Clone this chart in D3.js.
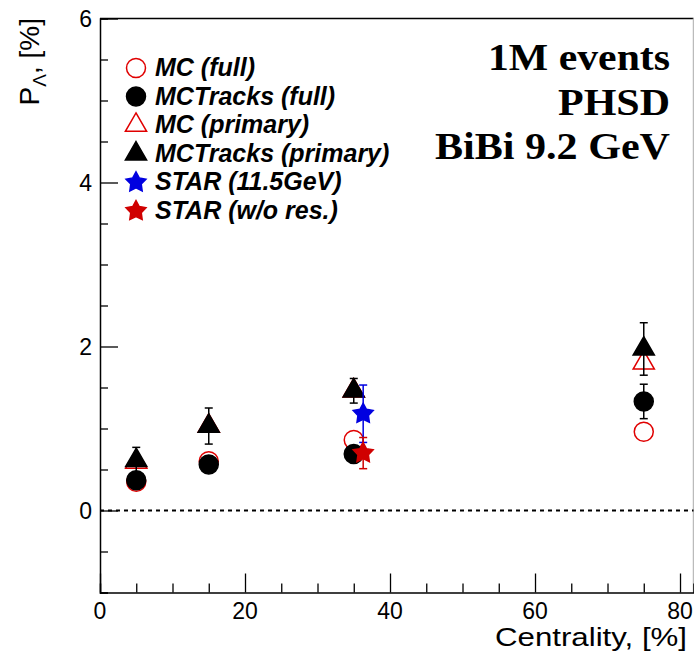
<!DOCTYPE html>
<html><head><meta charset="utf-8">
<script src="https://cdn.jsdelivr.net/npm/d3@7"></script>
<style>body{margin:0;background:#fff}svg{display:block}</style>
</head><body><svg id="c" width="694" height="656"></svg>
<script>
// Data
const centrality = [5, 15, 35, 75];
const mcFull = [0.35, 0.60, 0.86, 0.96];
const mcTracksFull = [0.37, 0.56, 0.69, 1.33];
const mcTracksFullErr = [0.04, 0.05, 0.06, 0.21];
const mcPrimary = [0.59, 1.03, 1.46, 1.80];
const mcTracksPrimary = [0.61, 1.03, 1.46, 1.97];
const mcTracksPrimaryErr = [0.16, 0.22, 0.15, 0.32];
const starX = [36.3];
const star115 = [1.18];
const star115Err = [0.35];
const starNoRes = [0.70];
const starNoResErr = [0.19];
const legendLabels = ["MC (full)", "MCTracks (full)", "MC (primary)", "MCTracks (primary)", "STAR (11.5GeV)", "STAR (w/o res.)"];
const xTicks = [0, 20, 40, 60, 80];
const yTicks = [0, 2, 4, 6];
const infoLines = ["1M events", "PHSD", "BiBi 9.2 GeV"];

const svg = d3.select("#c");
const L = 100, R = 693.5, T = 18.5, B = 592.5;
const x = d3.scaleLinear().domain([0, 81.86]).range([L, R]);
const y = d3.scaleLinear().domain([-1, 6]).range([B, T]);
const sans = "'Liberation Sans', Arial, sans-serif";

// frame
svg.append("line").attr("x1", L).attr("x2", R).attr("y1", T).attr("y2", T).attr("stroke", "#000").attr("stroke-width", 1.5);
svg.append("line").attr("x1", R).attr("x2", R).attr("y1", T).attr("y2", B).attr("stroke", "#bbb").attr("stroke-width", 1.5);

// axes with inward ticks
const xAxis = d3.axisBottom(x).tickValues(d3.range(0, 81, 5)).tickSize(-9).tickFormat("");
const gx = svg.append("g").attr("transform", `translate(0,${B})`).call(xAxis);
gx.selectAll("line").filter(d => d % 20 === 0).attr("y2", -19);
gx.select(".domain").attr("stroke-width", 1.5);
gx.selectAll("line").attr("stroke-width", 1.3);
svg.append("g").selectAll("text").data(xTicks).join("text")
  .attr("x", d => x(d)).attr("y", 619).attr("text-anchor", "middle")
  .attr("font-family", sans).attr("font-size", 23).text(d => d);

const yAxis = d3.axisLeft(y).tickValues(d3.range(-1, 6.01, 0.5)).tickSize(-8).tickFormat("");
const gy = svg.append("g").attr("transform", `translate(${L},0)`).call(yAxis);
gy.selectAll("line").filter(d => Math.abs(d % 2) < 1e-9).attr("x2", 18);
gy.select(".domain").attr("stroke-width", 1.5);
gy.selectAll("line").attr("stroke-width", 1.3);
svg.append("g").selectAll("text").data(yTicks).join("text")
  .attr("x", 92).attr("y", d => y(d) + 8).attr("text-anchor", "end")
  .attr("font-family", sans).attr("font-size", 23).text(d => d);

// axis titles
svg.append("text").attr("x", 687).attr("y", 646).attr("text-anchor", "end")
  .attr("font-family", sans).attr("font-size", 25)
  .attr("textLength", 192).attr("lengthAdjust", "spacingAndGlyphs").text("Centrality, [%]");
const yl = svg.append("text").attr("transform", "translate(39,18) rotate(-90)").attr("text-anchor", "end")
  .attr("font-family", sans).attr("font-size", 28);
yl.append("tspan").text("P");
yl.append("tspan").attr("dy", 7).attr("font-size", 19).text("Λ");
yl.append("tspan").attr("dy", -7).text(", [%]");

// zero line
svg.append("line").attr("x1", L).attr("x2", R).attr("y1", y(0)).attr("y2", y(0))
  .attr("stroke", "#000").attr("stroke-width", 2).attr("stroke-dasharray", "4,4");

// marker shapes
const circleP = d3.symbol().type(d3.symbolCircle).size(Math.PI * 9.5 * 9.5)();
const triP = d3.symbol().type(d3.symbolTriangle).size(195)();
function starPath(r1, r2) {
  const pts = [];
  for (let i = 0; i < 10; i++) {
    const a = -Math.PI / 2 + i * Math.PI / 5;
    const r = i % 2 ? r2 : r1;
    pts.push([r * Math.cos(a), r * Math.sin(a)]);
  }
  return "M" + pts.map(p => p.join(",")).join("L") + "Z";
}
const starP = starPath(10.5, 5.5);

const series = [
  {xs: centrality, v: mcFull, e: null, path: circleP, fill: "none", stroke: "#e00000"},
  {xs: centrality, v: mcTracksFull, e: mcTracksFullErr, path: circleP, fill: "#000", stroke: "#000"},
  {xs: centrality, v: mcPrimary, e: null, path: triP, fill: "none", stroke: "#e00000"},
  {xs: centrality, v: mcTracksPrimary, e: mcTracksPrimaryErr, path: triP, fill: "#000", stroke: "#000"},
  {xs: starX, v: star115, e: star115Err, path: starP, fill: "#0000e0", stroke: "#0000e0"},
  {xs: starX, v: starNoRes, e: starNoResErr, path: starP, fill: "#d00000", stroke: "#d00000"}
];

series.forEach(s => {
  const g = svg.append("g");
  const data = s.xs.map((c, i) => ({c, v: s.v[i], e: s.e ? s.e[i] : 0}));
  if (s.e) {
    g.selectAll("line.v").data(data).join("line").attr("class", "v")
      .attr("x1", d => x(d.c)).attr("x2", d => x(d.c)).attr("y1", d => y(d.v - d.e)).attr("y2", d => y(d.v + d.e))
      .attr("stroke", s.stroke).attr("stroke-width", 1.5);
    [1, -1].forEach(sg => {
      g.selectAll("line.c" + (sg > 0 ? "p" : "m")).data(data).join("line").attr("class", "c" + (sg > 0 ? "p" : "m"))
        .attr("x1", d => x(d.c) - 4).attr("x2", d => x(d.c) + 4)
        .attr("y1", d => y(d.v + sg * d.e)).attr("y2", d => y(d.v + sg * d.e))
        .attr("stroke", s.stroke).attr("stroke-width", 1.5);
    });
  }
  g.selectAll("path").data(data).join("path").attr("d", s.path)
    .attr("transform", d => `translate(${x(d.c)},${y(d.v)})`)
    .attr("fill", s.fill).attr("stroke", s.stroke).attr("stroke-width", 1.5);
});

// legend
const lg = svg.append("g");
legendLabels.forEach((t, i) => {
  const yy = 68 + i * 28.6;
  const s = series[i];
  lg.append("path").attr("d", s.path).attr("transform", `translate(136,${yy})`)
    .attr("fill", s.fill).attr("stroke", s.stroke).attr("stroke-width", 1.5);
  lg.append("text").attr("x", 155).attr("y", yy + 8).attr("font-family", sans)
    .attr("font-weight", "bold").attr("font-style", "italic").attr("font-size", 25).text(t);
});

// info text
const infoWidths = [182, 112, 235];
infoLines.forEach((t, i) => {
  svg.append("text").attr("x", 670).attr("y", 70 + i * 44.5).attr("text-anchor", "end")
    .attr("font-family", "'Liberation Serif', 'Times New Roman', serif").attr("font-weight", "bold")
    .attr("font-size", 37).attr("textLength", infoWidths[i]).attr("lengthAdjust", "spacingAndGlyphs").text(t);
});
</script></body></html>
